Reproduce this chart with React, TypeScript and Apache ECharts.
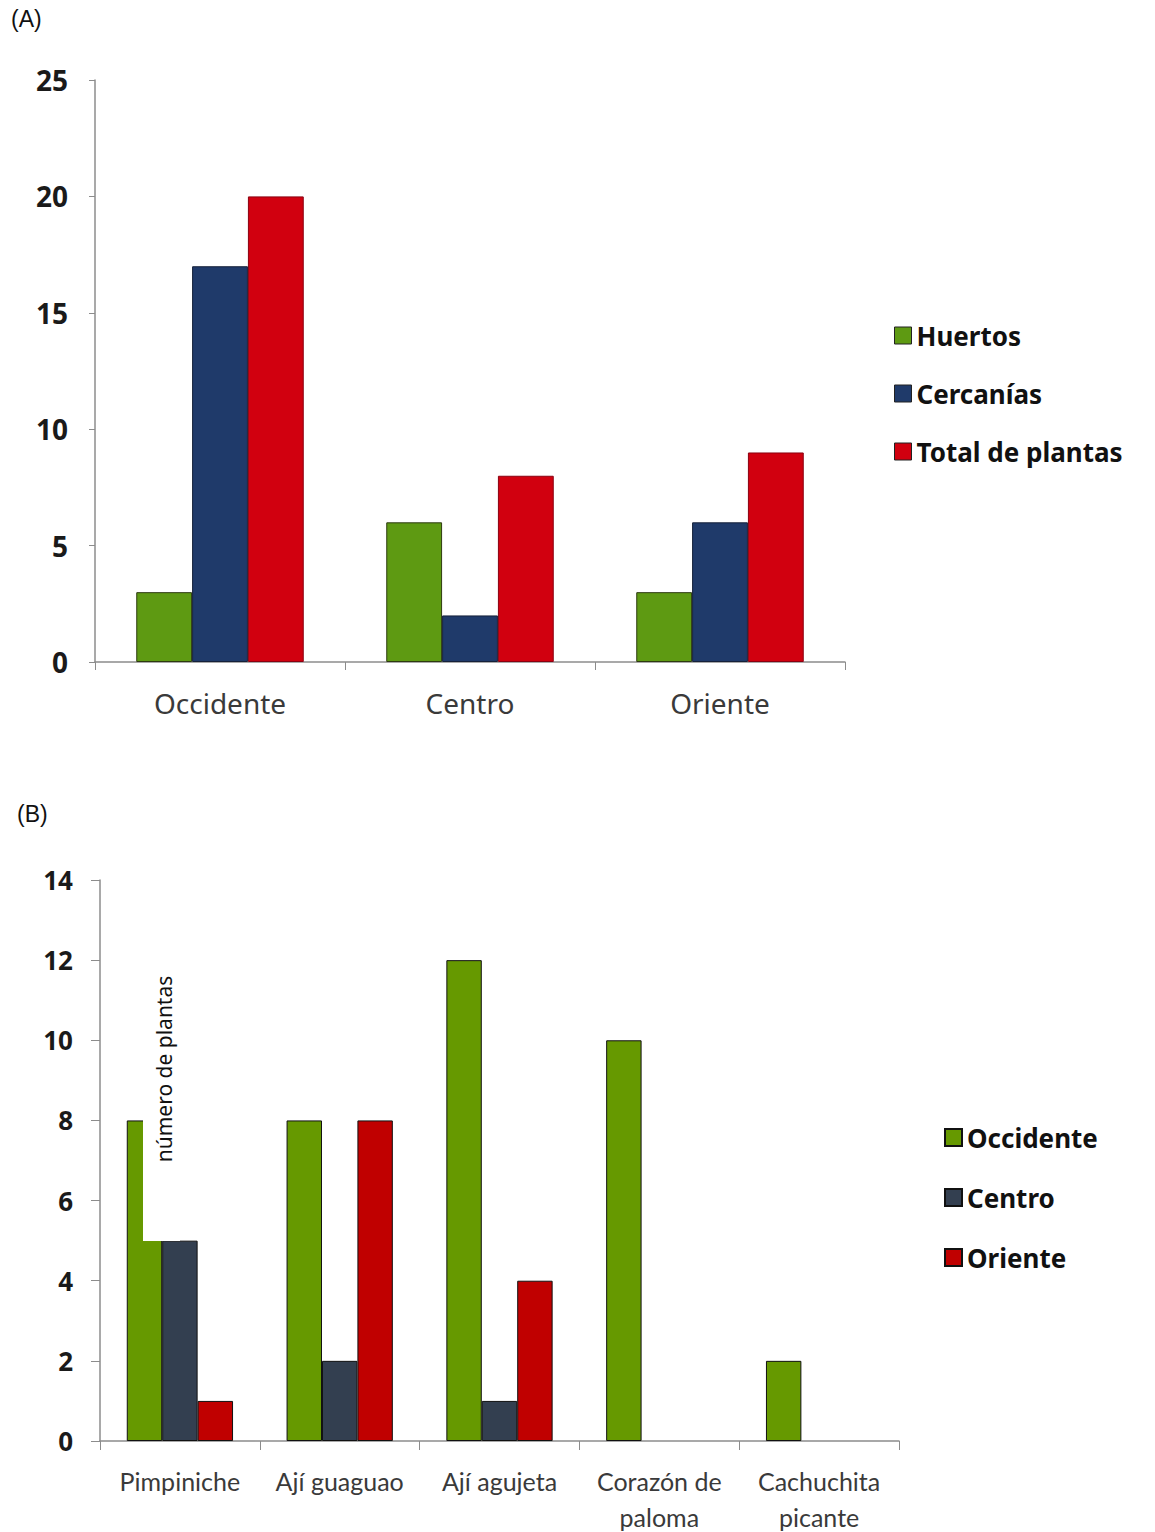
import React, { useEffect, useRef } from "react";
import * as echarts from "echarts";

const regionsA = ["Occidente", "Centro", "Oriente"];
const huertos = [3, 6, 3];
const cercanias = [17, 2, 6];
const totalPlantas = [20, 8, 9];

const plantsB = ["Pimpiniche", "Ají guaguao", "Ají agujeta", "Corazón de\npaloma", "Cachuchita\npicante"];
const occidente = [8, 8, 12, 10, 2];
const centro = [5, 2, 1, 0, 0];
const oriente = [1, 8, 4, 0, 0];

const LATO = "Lato, 'Open Sans', sans-serif";
const NOTO = "'Noto Sans', 'Open Sans', sans-serif";

const noZeroBorder = (arr: number[]) =>
  arr.map((v) => (v === 0 ? { value: v, itemStyle: { borderWidth: 0 } } : v));

export default function App() {
  const ref = useRef<HTMLDivElement>(null);
  useEffect(() => {
    document.body.style.margin = "0";
    document.documentElement.style.overflow = "hidden";
    const chart = echarts.init(ref.current!, null, { renderer: "svg" });
    const axisGray = "#8c8c8c";
    const bStyle = (c: string) => ({ color: c, borderColor: "#111", borderWidth: 1 });
    chart.setOption({
      animation: false,
      backgroundColor: "#fff",
      graphic: [
        { type: "text", left: 11, top: 7, style: { text: "(A)", fontFamily: "'Liberation Sans', Arial", fontSize: 23, fill: "#111" } },
        { type: "text", left: 17, top: 802, style: { text: "(B)", fontFamily: "'Liberation Sans', Arial", fontSize: 23, fill: "#111" } },
        { type: "rect", z: 100, shape: { x: 143, y: 962, width: 37, height: 279 }, style: { fill: "#fff" } },
        {
          type: "text", z: 101, x: 164, y: 1069, rotation: Math.PI / 2,
          style: { text: "número de plantas", fontFamily: NOTO, fontSize: 21, fill: "#111", align: "center", verticalAlign: "middle" },
        },
      ],
      legend: [
        {
          orient: "vertical", left: 889, top: 317, itemGap: 31, itemWidth: 17, itemHeight: 17, icon: "rect", itemStyle: { borderColor: "#222", borderWidth: 1 },
          data: ["Huertos", "Cercanías", "Total de plantas"],
          textStyle: { fontFamily: NOTO, fontWeight: "bold", fontSize: 26, lineHeight: 27, color: "#111" },
        },
        {
          orient: "vertical", left: 939, top: 1119, itemGap: 33, itemWidth: 17, itemHeight: 17, icon: "rect",
          data: ["Occidente", "Centro", "Oriente"],
          textStyle: { fontFamily: NOTO, fontWeight: "bold", fontSize: 26, lineHeight: 27, color: "#111" },
        },
      ],
      grid: [
        { left: 95, top: 80, width: 750, height: 582, outerBoundsMode: "none", containLabel: false },
        { left: 100, top: 880, width: 799, height: 561, outerBoundsMode: "none", containLabel: false },
      ],
      xAxis: [
        {
          type: "category", gridIndex: 0, data: regionsA,
          axisLine: { lineStyle: { color: axisGray, width: 1.5 } },
          axisTick: { show: true, length: 8, lineStyle: { color: axisGray } },
          axisLabel: { fontFamily: NOTO, fontSize: 28, color: "#3a3a3a", margin: 27 },
        },
        {
          type: "category", gridIndex: 1, data: plantsB,
          axisLine: { lineStyle: { color: axisGray, width: 1.5 } },
          axisTick: { show: true, length: 9, lineStyle: { color: axisGray } },
          axisLabel: { fontFamily: LATO, fontSize: 25, color: "#3a3a3a", margin: 22, lineHeight: 36, interval: 0 },
        },
      ],
      yAxis: [
        {
          type: "value", gridIndex: 0, min: 0, max: 25, interval: 5,
          axisLine: { show: true, lineStyle: { color: axisGray, width: 1.5 } },
          axisTick: { show: true, length: 6, lineStyle: { color: axisGray } },
          splitLine: { show: false },
          axisLabel: { fontFamily: NOTO, fontWeight: "bold", fontSize: 28, color: "#1a1a1a", margin: 27 },
        },
        {
          type: "value", gridIndex: 1, min: 0, max: 14, interval: 2,
          axisLine: { show: true, lineStyle: { color: axisGray, width: 1.5 } },
          axisTick: { show: true, length: 9, lineStyle: { color: axisGray } },
          splitLine: { show: false },
          axisLabel: { fontFamily: NOTO, fontWeight: "bold", fontSize: 26, color: "#1a1a1a", margin: 27 },
        },
      ],
      series: [
        { name: "Huertos", type: "bar", xAxisIndex: 0, yAxisIndex: 0, data: huertos, barGap: "0%", barCategoryGap: "33%", itemStyle: { color: "#5e9a12", borderColor: "#2d3a10", borderWidth: 1 } },
        { name: "Cercanías", type: "bar", xAxisIndex: 0, yAxisIndex: 0, data: cercanias, barGap: "0%", barCategoryGap: "33%", itemStyle: { color: "#1f3a6a", borderColor: "#15213a", borderWidth: 1 } },
        { name: "Total de plantas", type: "bar", xAxisIndex: 0, yAxisIndex: 0, data: totalPlantas, barGap: "0%", barCategoryGap: "33%", itemStyle: { color: "#d1000f", borderColor: "#8a0010", borderWidth: 1 } },
        { name: "Occidente", type: "bar", xAxisIndex: 1, yAxisIndex: 1, data: noZeroBorder(occidente), barGap: "0%", barCategoryGap: "33.5%", itemStyle: bStyle("#669900") },
        { name: "Centro", type: "bar", xAxisIndex: 1, yAxisIndex: 1, data: noZeroBorder(centro), barGap: "0%", barCategoryGap: "33.5%", itemStyle: bStyle("#333f50") },
        { name: "Oriente", type: "bar", xAxisIndex: 1, yAxisIndex: 1, data: noZeroBorder(oriente), barGap: "0%", barCategoryGap: "33.5%", itemStyle: bStyle("#c00000") },
      ],
    });
    return () => chart.dispose();
  }, []);
  return <div ref={ref} style={{ position: "absolute", left: 0, top: 0, width: 1155, height: 1532 }} />;
}
